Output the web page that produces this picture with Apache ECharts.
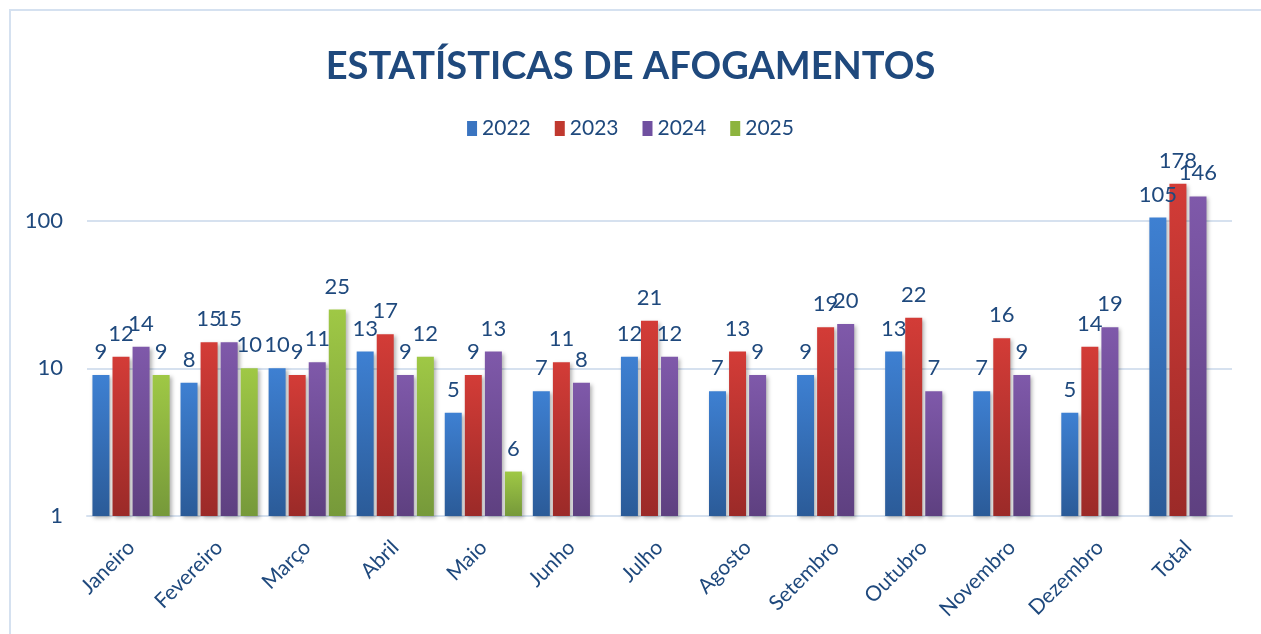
<!DOCTYPE html>
<html>
<head>
<meta charset="utf-8">
<script src="https://cdn.jsdelivr.net/npm/echarts@6/dist/echarts.min.js"></script>
<style>
  html, body { margin: 0; padding: 0; background: #fff; }
  #chart { width: 1261px; height: 634px; }
</style>
</head>
<body>
<div id="chart"></div>
<script>
var months = ['Janeiro', 'Fevereiro', 'Março', 'Abril', 'Maio', 'Junho', 'Julho', 'Agosto', 'Setembro', 'Outubro', 'Novembro', 'Dezembro', 'Total'];
var years = ['2022', '2023', '2024', '2025'];
var v2022 = [9, 8, 10, 13, 5, 7, 12, 7, 9, 13, 7, 5, 105];
var v2023 = [12, 15, 9, 17, 9, 11, 21, 13, 19, 22, 16, 14, 178];
var v2024 = [14, 15, 11, 9, 13, 8, 12, 9, 20, 7, 9, 19, 146];
var v2025 = [9, 10, 25, 12, 2];
// the Maio 2025 bar is drawn at 2 but its label reads 6
var labels2025 = ['9', '10', '25', '12', '6'];

var txt = '#1F497D';
var font = 'Lato, "Open Sans", sans-serif';

function grad(top, bottom) {
    return new echarts.graphic.LinearGradient(0, 0, 0, 1, [
        { offset: 0, color: top },
        { offset: 1, color: bottom }
    ]);
}

var colors = [
    grad('#3E80D2', '#2B5B98'),
    grad('#D33C37', '#9B2A28'),
    grad('#7F59AA', '#5E4080'),
    grad('#9FC845', '#76993A')
];
var legendColors = ['#3A74C0', '#C0392F', '#7050A0', '#8DB43E'];

function makeSeries(name, data, idx) {
    return {
        name: name,
        type: 'bar',
        data: data,
        barWidth: 17,
        barGap: '18%',
        itemStyle: {
            color: colors[idx],
            shadowColor: 'rgba(0,0,0,0.3)',
            shadowBlur: 4,
            shadowOffsetX: 2,
            shadowOffsetY: 2
        },
        label: {
            show: true,
            position: 'top',
            distance: 12,
            color: txt,
            fontSize: 22,
            fontFamily: font
        }
    };
}

var data2025 = v2025.map(function (v, i) {
    return { value: v, label: { formatter: labels2025[i] } };
});

var myChart = echarts.init(document.getElementById('chart'));
option = {
    color: legendColors,
    animation: false,
    graphic: [{
        type: 'rect',
        shape: { x: 10, y: 10, width: 1260, height: 640 },
        style: { fill: 'none', stroke: '#D5E1F0', lineWidth: 2 },
        silent: true
    }],
    title: {
        text: 'ESTATÍSTICAS DE AFOGAMENTOS',
        left: 'center',
        top: 43,
        textStyle: {
            color: txt,
            fontSize: 38,
            fontWeight: 'bold',
            fontFamily: font
        }
    },
    legend: {
        data: years.map(function (y, i) {
            return { name: y, itemStyle: { color: legendColors[i] } };
        }),
        top: 113,
        left: 'center',
        itemWidth: 10,
        itemHeight: 15,
        itemGap: 24,
        icon: 'rect',
        textStyle: { color: txt, fontSize: 21, fontFamily: font }
    },
    grid: {
        left: 87,
        right: 29,
        top: 73,
        bottom: 118
    },
    xAxis: [{
        type: 'category',
        data: months,
        axisLine: { show: true, lineStyle: { color: '#D6E1EF', width: 2 } },
        axisTick: { show: false },
        axisLabel: {
            interval: 0,
            rotate: 45,
            margin: 28,
            color: txt,
            fontSize: 21,
            fontFamily: font
        }
    }],
    yAxis: [{
        type: 'log',
        logBase: 10,
        min: 1,
        max: 1000,
        axisLine: { show: false },
        axisTick: { show: false },
        axisLabel: {
            showMaxLabel: false,
            color: txt,
            fontSize: 22,
            fontFamily: font,
            margin: 24
        },
        splitLine: {
            show: true,
            showMaxLine: false,
            lineStyle: { color: '#D6E1EF', width: 2 }
        }
    }],
    series: [
        makeSeries('2022', v2022, 0),
        makeSeries('2023', v2023, 1),
        makeSeries('2024', v2024, 2),
        makeSeries('2025', data2025, 3)
    ]
};
myChart.setOption(option);
</script>
</body>
</html>
